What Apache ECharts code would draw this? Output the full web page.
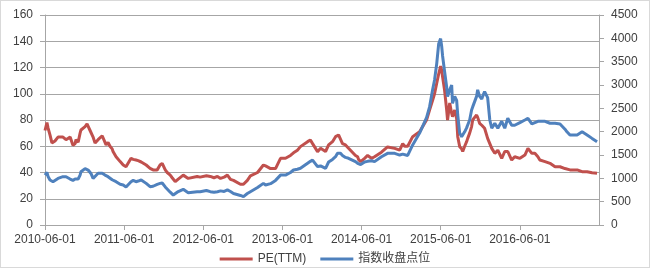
<!DOCTYPE html>
<html><head><meta charset="utf-8">
<script src="https://cdn.jsdelivr.net/npm/echarts@6/dist/echarts.min.js"></script>
<style>
html,body{margin:0;padding:0;background:#fff}
#c{width:650px;height:268px;position:absolute;left:0;top:0}
#b{position:absolute;left:0;top:0;width:650px;height:268px;box-sizing:border-box;border:1px solid #D9D9D9;pointer-events:none}
</style>
</head><body><div id="c"></div><div id="b"></div>
<script>
const seriesNames = ['PE(TTM)', '指数收盘点位'];
const tickDates = ['2010-06-01','2011-06-01','2012-06-01','2013-06-01','2014-06-01','2015-06-01','2016-06-01','2017-06-01'];
const dates = [
'2010-06-01','2010-06-10','2010-06-15','2010-06-24','2010-07-03','2010-07-08','2010-07-17','2010-07-31','2010-08-09','2010-08-23',
'2010-09-06','2010-09-15','2010-09-25','2010-09-29','2010-10-08','2010-10-18','2010-10-22','2010-11-01','2010-11-10','2010-11-14',
'2010-12-03','2010-12-12','2010-12-17','2010-12-26','2010-12-31','2011-01-09','2011-01-18','2011-02-01','2011-02-10','2011-02-20',
'2011-02-24','2011-03-05','2011-03-10','2011-03-19','2011-03-28','2011-04-07','2011-04-11','2011-04-25','2011-05-04','2011-05-14',
'2011-05-28','2011-06-06','2011-06-10','2011-06-19','2011-07-03','2011-07-13','2011-07-26','2011-08-05','2011-08-19','2011-08-28',
'2011-09-11','2011-09-20','2011-09-29','2011-10-13','2011-10-22','2011-11-01','2011-11-14','2011-11-24','2011-12-08','2011-12-17',
'2011-12-31','2012-01-09','2012-01-14','2012-01-23','2012-02-06','2012-02-29','2012-03-09','2012-03-23','2012-04-01','2012-05-03',
'2012-05-17','2012-06-15','2012-07-03','2012-07-20','2012-08-05','2012-08-19','2012-09-05','2012-09-20','2012-10-04','2012-10-18',
'2012-10-27','2012-11-19','2012-11-28','2012-12-03','2012-12-21','2013-01-04','2013-02-06','2013-02-10','2013-03-05','2013-03-15',
'2013-04-07','2013-04-16','2013-04-30','2013-05-23','2013-06-15','2013-06-24','2013-07-08','2013-07-22','2013-08-09','2013-08-23',
'2013-09-01','2013-09-25','2013-10-08','2013-10-18','2013-10-22','2013-11-10','2013-11-24','2013-12-03','2013-12-17','2013-12-31',
'2014-01-18','2014-01-23','2014-02-01','2014-02-10','2014-02-15','2014-02-24','2014-03-05','2014-03-10','2014-03-19','2014-04-02',
'2014-04-11','2014-05-04','2014-05-14','2014-05-18','2014-05-28','2014-06-06','2014-06-15','2014-06-29','2014-07-08','2014-07-17',
'2014-07-31','2014-08-09','2014-09-01','2014-09-06','2014-09-29','2014-10-08','2014-11-01','2014-11-24','2014-12-08','2014-12-17',
'2014-12-31','2015-01-23','2015-02-24','2015-03-28','2015-04-11','2015-04-25','2015-05-04','2015-05-14','2015-05-23','2015-06-01',
'2015-06-06','2015-06-10','2015-06-19','2015-06-29','2015-07-03','2015-07-13','2015-07-22','2015-07-26','2015-08-05','2015-08-14',
'2015-08-19','2015-08-28','2015-09-06','2015-09-11','2015-09-20','2015-09-29','2015-10-04','2015-10-13','2015-10-22','2015-10-27',
'2015-11-05','2015-11-14','2015-11-19','2015-11-28','2015-12-08','2015-12-12','2015-12-21','2016-01-04','2016-01-14','2016-01-23',
'2016-02-06','2016-02-20','2016-03-09','2016-03-23','2016-04-06','2016-04-24','2016-05-08','2016-05-17','2016-06-01','2016-06-10',
'2016-06-24','2016-07-08','2016-07-26','2016-07-31','2016-08-09','2016-08-23','2016-09-01','2016-09-25','2016-10-18','2016-11-10',
'2016-11-19','2016-12-03','2016-12-12','2016-12-26','2017-01-04','2017-01-18','2017-01-27','2017-02-20','2017-03-15','2017-04-07',
'2017-04-30','2017-05-23'
];
const peTTM = [
72,78,74,68.6,62.5,62.4,64,67,68,67,
65,66,67,66,60.7,62,65,63,70,72.4,
75,77,76,72,71,67,62.4,65,66.3,68,
67.5,63,61,63,60,58,56,52,51,48.3,
45.7,46,44.4,45,50.8,50,49.5,49,48,48,
45.7,46,43.2,42,43,42,45.7,47,42,40,
38,36,35.5,33,35,38,39,35.5,35,37,
36.5,37.5,37,36,37,35.5,36.5,38,34.8,34,
34.8,31,30.5,31,34,37.4,40,41,45.7,45,
43,43,43,50.8,50.8,51,53,55,57,59.7,
59.7,63.5,64.8,62,61,55.9,58.4,57,56,61,
63.5,64,67.3,68,68.6,70,62,62,61,58.5,
57,53,52,50,48.2,49.5,50.8,53,52,50.8,
52,53,55.5,56,59.5,61,58.4,57,62,60,
60,67.3,71,80,87.6,95,100,108,115,121,
118,113,103,87.6,80,93,85,82.5,87.6,81,
67.3,59.7,58,56,60,63.5,66,70,75,80,
82,83.8,82,77.5,76,75,73.7,66,62,58.4,
54.6,57,50.8,56,56,49.5,52,51,50.8,51,
53.3,58.4,54.6,54.6,54.6,52,49.5,48.3,47,44.4,
44.4,44.4,43.5,43,42.5,42,42,42,40.6,40.6,
39.8,39.4
];
const indexClose = [
1070,1125,1040,965,930,928,956,998,1013,1035,
1035,1035,985,965,956,985,998,985,1069,1142,
1209,1195,1178,1142,1097,998,1013,1108,1097,1108,
1108,1069,1055,1035,998,970,965,928,892,872,
858,830,816,802,928,956,928,942,965,928,
892,858,821,830,844,872,892,900,816,785,
703,661,641,647,717,765,759,692,703,714,
714,740,714,700,714,731,720,751,717,675,
675,633,608,608,675,714,802,807,892,858,
886,892,956,1069,1069,1069,1125,1178,1195,1215,
1238,1322,1364,1392,1350,1252,1266,1285,1215,1350,
1406,1429,1463,1536,1536,1536,1491,1463,1448,1429,
1406,1358,1322,1285,1294,1322,1350,1364,1392,1378,
1358,1378,1463,1463,1536,1536,1536,1499,1519,1536,
1490,1716,1969,2300,2531,2897,3108,3459,3881,3994,
3825,3628,3300,2953,2751,2897,3001,2607,2756,2672,
2357,1969,1893,1913,1997,2081,2143,2250,2464,2531,
2644,2756,2897,2756,2700,2756,2858,2728,2250,2073,
2180,2073,2222,2073,2287,2138,2138,2138,2194,2222,
2250,2287,2166,2138,2194,2222,2222,2222,2180,2180,
2180,2166,2138,2053,1997,1927,1893,1929,1997,1929,
1856,1786
];

const DAY = 86400000;
function toTs(s) { const p = s.split('-').map(Number); return Date.UTC(p[0], p[1] - 1, p[2]); }
const t0 = toTs(tickDates[0]);
function toDay(s) { return Math.round((toTs(s) - t0) / DAY); }
const xMax = toDay(tickDates[tickDates.length - 1]);
const xInterval = xMax / (tickDates.length - 1);

const axisColor = '#A6A6A6';
const textColor = '#404040';
const font = '"Liberation Sans", Arial, "Noto Sans CJK SC", sans-serif';

const chart = echarts.init(document.getElementById('c'), null, { renderer: 'canvas' });
chart.setOption({
  animation: false,
  backgroundColor: '#ffffff',
  grid: { left: 45, right: 51, top: 15, bottom: 43, containLabel: false },
  legend: {
    data: seriesNames,
    left: 'center',
    top: 248,
    icon: 'rect',
    itemWidth: 33,
    itemHeight: 3,
    itemGap: 14,
    textStyle: { color: textColor, fontSize: 12, fontFamily: font }
  },
  xAxis: {
    type: 'value',
    min: 0,
    max: xMax,
    interval: xInterval,
    axisLine: { show: true, lineStyle: { color: axisColor, width: 1 } },
    axisTick: { show: true, length: 5, lineStyle: { color: axisColor } },
    axisLabel: {
      formatter: function (v) { const k = Math.round(v / xInterval); return k < tickDates.length - 1 ? tickDates[k] : ''; },
      showMaxLabel: false,
      color: textColor, fontSize: 12, fontFamily: font, margin: 9
    },
    splitLine: { show: false }
  },
  yAxis: [
    {
      type: 'value', position: 'left', min: 0, max: 160, interval: 20,
      axisLine: { show: true, lineStyle: { color: axisColor } },
      axisTick: { show: true, length: 5, lineStyle: { color: axisColor } },
      axisLabel: { color: textColor, fontSize: 12, fontFamily: font, margin: 12, formatter: function (v) { return String(v); } },
      splitLine: { show: true, lineStyle: { color: axisColor, width: 1 } }
    },
    {
      type: 'value', position: 'right', min: 0, max: 4500, interval: 500,
      axisLine: { show: true, lineStyle: { color: axisColor } },
      axisTick: { show: true, length: 5, lineStyle: { color: axisColor } },
      axisLabel: { color: textColor, fontSize: 12, fontFamily: font, margin: 12, formatter: function (v) { return String(v); } },
      splitLine: { show: false }
    }
  ],
  series: [
    {
      name: seriesNames[0], type: 'line', yAxisIndex: 0, showSymbol: false, symbol: 'none',
      lineStyle: { color: '#C0504D', width: 3 }, itemStyle: { color: '#C0504D' },
      data: dates.map((d, i) => [toDay(d), peTTM[i]])
    },
    {
      name: seriesNames[1], type: 'line', yAxisIndex: 1, showSymbol: false, symbol: 'none',
      lineStyle: { color: '#4F81BD', width: 3 }, itemStyle: { color: '#4F81BD' },
      data: dates.map((d, i) => [toDay(d), indexClose[i]])
    }
  ]
});
</script>
</body></html>
